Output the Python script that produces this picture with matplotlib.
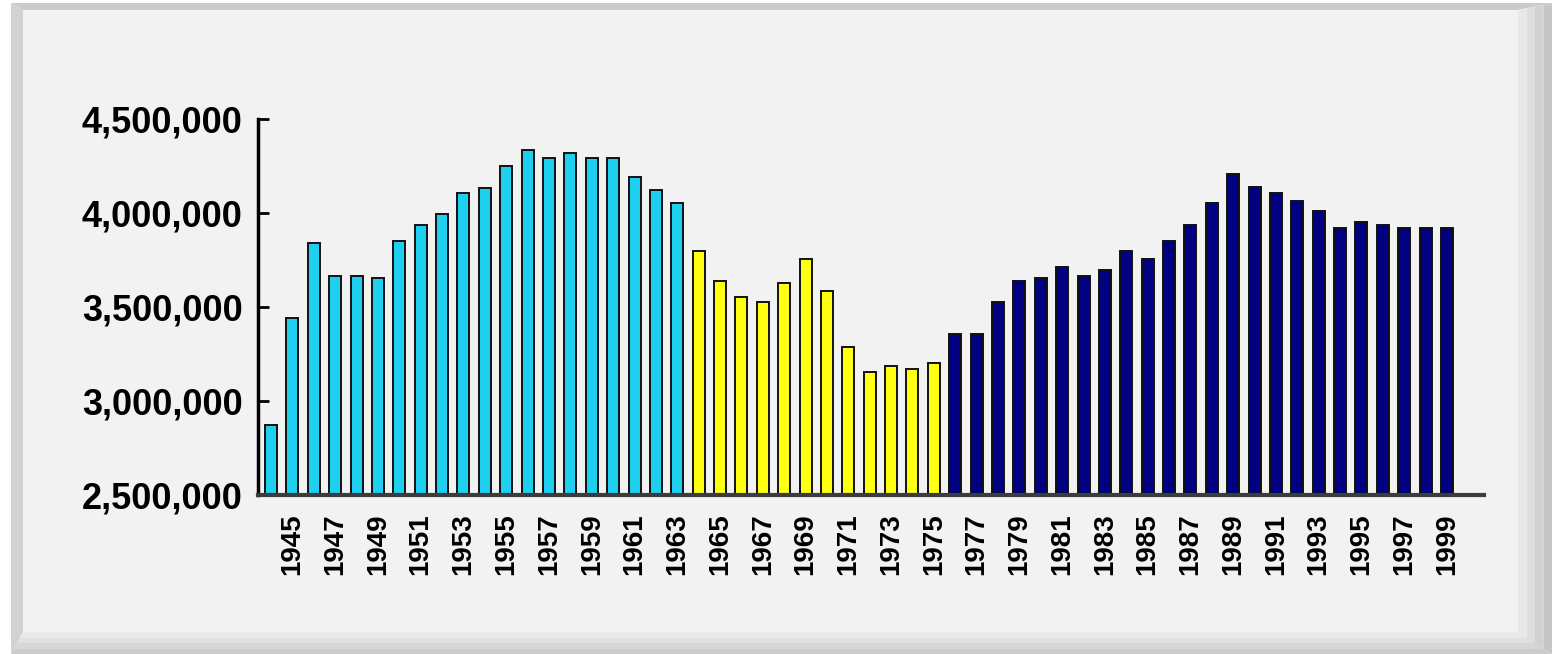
import matplotlib.pyplot as plt
from matplotlib.patches import Polygon

# births per year (bars are drawn at the years 1944..1999 as labelled on the chart)
years = list(range(1944, 2000))
boomers = [2872000, 3440000, 3839000, 3667000, 3667000, 3652000, 3853000, 3936000,
           3993000, 4108000, 4135000, 4250000, 4335000, 4291000, 4321000, 4291000,
           4291000, 4193000, 4122000, 4051000]
gen_x = [3798000, 3640000, 3555000, 3528000, 3626000, 3754000, 3587000, 3286000,
         3156000, 3186000, 3170000, 3200000]
echo = [3356000, 3356000, 3525000, 3640000, 3656000, 3711000, 3667000, 3697000,
        3798000, 3754000, 3853000, 3936000, 4051000, 4207000, 4137000, 4108000,
        4065000, 4011000, 3922000, 3950000, 3936000, 3922000, 3922000, 3922000]
group_colors = ['#1ecff0', '#ffff12', '#000080']

ytick_values = [2500000, 3000000, 3500000, 4000000, 4500000]
ytick_labels = ['2,500,000', '3,000,000', '3,500,000', '4,000,000', '4,500,000']
xtick_years = list(range(1945, 2000, 2))

W, H = 1552, 654
fig = plt.figure(figsize=(W / 100, H / 100), dpi=100, facecolor='white')

# bevelled panel behind the chart
bg = fig.add_axes([0, 0, 1, 1])
bg.set_xlim(0, W)
bg.set_ylim(H, 0)
bg.axis('off')
L, T, R, B = 23, 10, 1518, 632
bg.add_patch(Polygon([(11, 3), (W, 3), (R, T), (L, T)], color='#cbcbcb', lw=0))
bg.add_patch(Polygon([(11, 3), (L, T), (L, B), (11, H)], color='#d2d2d2', lw=0))
for k, c in enumerate(['#e8e8e8', '#dedede', '#d2d2d2', '#c6c6c6']):
    x0 = R + k * (W - R) / 4
    x1 = R + (k + 1) * (W - R) / 4
    y0 = T - k * (T - 3) / 4
    y1 = T - (k + 1) * (T - 3) / 4
    bg.add_patch(Polygon([(x0, y0), (x1, y1), (x1, H), (x0, B + k * (H - B) / 4)], color=c, lw=0))
for k, c in enumerate(['#eaeaea', '#e0e0e0', '#d6d6d6', '#cccccc']):
    y0 = B + k * (H - B) / 4
    y1 = B + (k + 1) * (H - B) / 4
    xl0 = L - k * (L - 11) / 4
    xl1 = L - (k + 1) * (L - 11) / 4
    bg.add_patch(Polygon([(xl0, y0), (R + k * (W - R) / 4, y0), (R + (k + 1) * (W - R) / 4, y1), (xl1, y1)], color=c, lw=0))
bg.add_patch(Polygon([(L, T), (R, T), (R, B), (L, B)], color='#f2f2f2', lw=0))

ax = fig.add_axes([258 / W, 1 - 495 / H, (1484 - 258) / W, (495 - 119) / H])
ax.set_facecolor('none')

values = boomers + gen_x + echo
colors = ([group_colors[0]] * len(boomers) + [group_colors[1]] * len(gen_x)
          + [group_colors[2]] * len(echo))
ax.bar(years, values, width=0.56, color=colors, edgecolor='#111111', linewidth=1.4)

ax.set_ylim(2500000, 4500000)
ax.set_xlim(years[0] - 0.61, years[-1] + 1.73)

ax.set_yticks(ytick_values)
ax.set_yticklabels(ytick_labels)
ax.set_xticks(xtick_years)
ax.set_xticklabels([str(y) for y in xtick_years], rotation=90)

for lab in ax.get_yticklabels():
    lab.set_fontfamily('Liberation Sans')
    lab.set_fontweight('bold')
    lab.set_fontsize(26)
for lab in ax.get_xticklabels():
    lab.set_fontfamily('Liberation Sans')
    lab.set_fontweight('bold')
    lab.set_fontsize(20)

ax.tick_params(axis='y', direction='in', length=8, width=2, pad=11, colors='black')
ax.tick_params(axis='x', length=0, pad=13)

for s in ['top', 'right']:
    ax.spines[s].set_visible(False)
ax.spines['left'].set_linewidth(2.5)
ax.spines['left'].set_color('black')
ax.spines['bottom'].set_linewidth(3)
ax.spines['bottom'].set_color('#3c3c3c')

plt.savefig('out.png', dpi=100, facecolor='white')
